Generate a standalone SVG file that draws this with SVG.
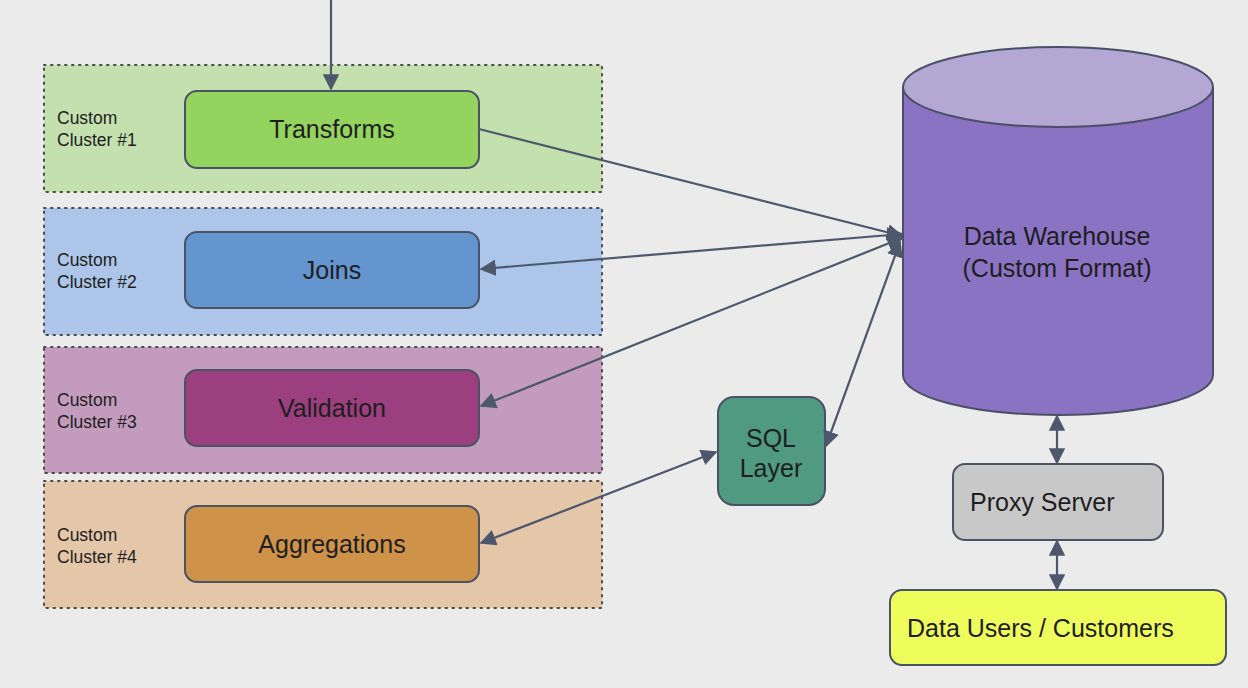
<svg xmlns="http://www.w3.org/2000/svg" width="1248" height="688" viewBox="0 0 1248 688">
<defs>
<marker id="ah" viewBox="0 0 10 10" refX="9" refY="5" markerWidth="7.5" markerHeight="7.5" markerUnits="strokeWidth" orient="auto-start-reverse">
<path d="M0,0 L10,5 L0,10 z" fill="#4e586d"/>
</marker>
<style>
text{font-family:"Liberation Sans",Arial,sans-serif;fill:#1e1e1e}
.cl{stroke:#4a4a4a;stroke-width:2;stroke-dasharray:1.5 5.5;stroke-linecap:round}
.lbl{font-size:17.5px}
.bx{stroke:#4a5266;stroke-width:2}
.bt{font-size:25px;text-anchor:middle}
.cn{stroke:#4e586d;stroke-width:2.2;fill:none}
</style>
</defs>
<rect width="1248" height="688" fill="#ebebeb"/>

<g id="cluster1">
<rect class="cl" x="44" y="65" width="558" height="127" fill="#c4e0ae"/>
<text class="lbl" x="57" y="124">Custom</text>
<text class="lbl" x="57" y="146">Cluster #1</text>
</g>
<g id="cluster2">
<rect class="cl" x="44" y="208" width="558" height="127" fill="#adc5e8"/>
<text class="lbl" x="57" y="266">Custom</text>
<text class="lbl" x="57" y="288">Cluster #2</text>
</g>
<g id="cluster3">
<rect class="cl" x="44" y="347" width="558" height="126" fill="#c39cbd"/>
<text class="lbl" x="57" y="406">Custom</text>
<text class="lbl" x="57" y="428">Cluster #3</text>
</g>
<g id="cluster4">
<rect class="cl" x="44" y="481" width="558" height="127" fill="#e4c6a9"/>
<text class="lbl" x="57" y="541">Custom</text>
<text class="lbl" x="57" y="563">Cluster #4</text>
</g>

<g id="transforms">
<rect class="bx" x="185" y="91" width="294" height="77" rx="12" fill="#93d35e"/>
<text class="bt" x="332" y="138">Transforms</text>
</g>
<g id="joins">
<rect class="bx" x="185" y="232" width="294" height="76" rx="12" fill="#6595cf"/>
<text class="bt" x="332" y="279">Joins</text>
</g>
<g id="validation">
<rect class="bx" x="185" y="370" width="294" height="76" rx="12" fill="#9b3f7e"/>
<text class="bt" x="332" y="417">Validation</text>
</g>
<g id="aggregations">
<rect class="bx" x="185" y="506" width="294" height="76" rx="12" fill="#ce9249"/>
<text class="bt" x="332" y="553">Aggregations</text>
</g>

<g id="warehouse">
<path d="M903,87 L903,375 A155,40 0 0 0 1213,375 L1213,87" fill="#8a73c3" stroke="#4a4f66" stroke-width="2"/>
<ellipse cx="1058" cy="87" rx="155" ry="40" fill="#b3a7d4" stroke="#4a4f66" stroke-width="2"/>
<text class="bt" x="1057" y="245">Data Warehouse</text>
<text class="bt" x="1057" y="277">(Custom Format)</text>
</g>

<g id="sql">
<rect class="bx" x="718" y="397" width="107" height="108" rx="16" fill="#4f9a80"/>
<text class="bt" x="771" y="447">SQL</text>
<text class="bt" x="771" y="477">Layer</text>
</g>

<g id="proxy">
<rect class="bx" x="953" y="464" width="210" height="76" rx="12" fill="#c8c8c8"/>
<text x="970" y="511" style="font-size:25px">Proxy Server</text>
</g>

<g id="users">
<rect class="bx" x="890" y="590" width="336" height="75" rx="12" fill="#eefd5b"/>
<text x="907" y="637" style="font-size:25px">Data Users / Customers</text>
</g>

<g id="connectors">
<line class="cn" x1="331" y1="0" x2="331" y2="89" marker-end="url(#ah)"/>
<line class="cn" x1="479" y1="129" x2="902" y2="236" marker-end="url(#ah)"/>
<line class="cn" x1="902" y1="234" x2="481" y2="269" marker-start="url(#ah)" marker-end="url(#ah)"/>
<line class="cn" x1="902" y1="238" x2="481" y2="406" marker-start="url(#ah)" marker-end="url(#ah)"/>
<line class="cn" x1="900" y1="242" x2="826" y2="446" marker-start="url(#ah)" marker-end="url(#ah)"/>
<line class="cn" x1="716" y1="452" x2="481" y2="543" marker-start="url(#ah)" marker-end="url(#ah)"/>
<line class="cn" x1="1057" y1="416" x2="1057" y2="463" marker-start="url(#ah)" marker-end="url(#ah)"/>
<line class="cn" x1="1057" y1="541" x2="1057" y2="589" marker-start="url(#ah)" marker-end="url(#ah)"/>
</g>
</svg>
